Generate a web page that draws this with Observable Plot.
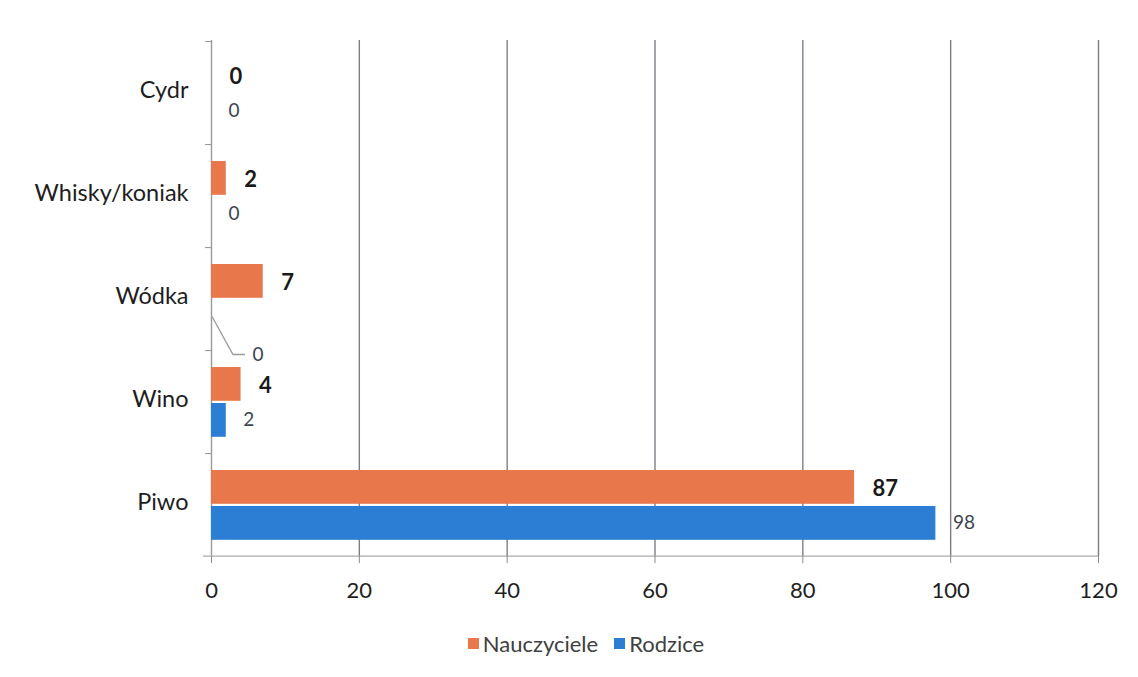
<!DOCTYPE html>
<html><head><meta charset="utf-8">
<script src="https://cdn.jsdelivr.net/npm/d3@7"></script>
<script src="https://cdn.jsdelivr.net/npm/@observablehq/plot@0.6"></script>
<style>
body{margin:0;background:#fff;font-family:Lato,"Open Sans",sans-serif;}
#legend{display:flex;justify-content:center;align-items:center;gap:16px;font-size:22px;color:#404040;margin-top:10px;padding-left:34px;}
#legend .item{display:flex;align-items:center;gap:4px;}
#legend .sw{width:11px;height:11px;display:inline-block;}
</style></head><body>
<div id="chart"></div><div id="legend"></div>
<script>
const categories = ["Cydr", "Whisky/koniak", "Wódka", "Wino", "Piwo"];
const seriesNames = ["Nauczyciele", "Rodzice"];
const nauczyciele = [0, 2, 7, 4, 87];
const rodzice = [0, 0, 0, 2, 98];
const xTicks = [0, 20, 40, 60, 80, 100, 120];
const colors = ["#E8784C", "#2B7ED3"];

const rowsN = categories.map((c, i) => ({category: c, value: nauczyciele[i]}));
const rowsR = categories.map((c, i) => ({category: c, value: rodzice[i]}));
const leaderCat = "Wódka";

const H = 620, mTop = 40, mBottom = 64;
const bw = (H - mTop - mBottom) / categories.length;
const barH = 34;

const plot = Plot.plot({
  width: 1138, height: H,
  marginTop: mTop, marginBottom: mBottom, marginLeft: 211, marginRight: 40,
  style: {fontFamily: "Lato, 'Open Sans', sans-serif", background: "#fff"},
  x: {domain: [0, 120], axis: null},
  y: {domain: categories, padding: 0, axis: null},
  marks: [
    Plot.ruleX(xTicks.filter(t => t > 0), {stroke: "#7d7d86", strokeWidth: 1.4}),
    Plot.ruleX([0], {stroke: "#9a9a9a", strokeWidth: 1.4}),
    // band boundary ticks on the category axis
    Plot.barX(categories, {y: d => d, x1: -0.8, x2: 0, insetBottom: bw - 1.3, fill: "#9a9a9a"}),
    // bottom axis line
    Plot.barX([categories[categories.length - 1]], {y: d => d, x1: -1.1, x2: 120, insetTop: bw - 0.7, insetBottom: -0.7, fill: "#a8a8a8"}),
    Plot.axisX({ticks: xTicks, tickSize: 7, tickPadding: 19, fontSize: 22, fill: "#1e1e1e", stroke: "#8a8a8a", tickFormat: d => d, label: null}),
    Plot.axisY({tickSize: 0, tickPadding: 23, fontSize: 23.5, fill: "#1e1e1e", label: null, dy: -3}),
    Plot.barX(rowsN, {y: "category", x: "value", fill: colors[0], insetTop: 17, insetBottom: bw - 17 - barH}),
    Plot.barX(rowsR, {y: "category", x: "value", fill: colors[1], insetTop: 53, insetBottom: bw - 53 - barH}),
    Plot.text(rowsN, {y: "category", x: "value", text: d => String(d.value), dx: 18, dy: -16, textAnchor: "start", fontSize: 22, fontWeight: "bold", fill: "#1a1a1a"}),
    Plot.text(rowsR.filter(d => d.category !== leaderCat), {y: "category", x: "value", text: d => String(d.value), dx: 17, dy: 18, textAnchor: "start", fontSize: 19, fill: "#3d4450"}),
    Plot.text(rowsR.filter(d => d.category === leaderCat), {y: "category", x: "value", text: d => String(d.value), dx: 41, dy: 56, textAnchor: "start", fontSize: 19, fill: "#3d4450"})
  ]
});
document.getElementById("chart").appendChild(plot);

// leader line for the Wódka / Rodzice label
const sx = plot.scale("x"), sy = plot.scale("y");
const x0 = sx.apply(0);
const yc = sy.apply(leaderCat) + sy.bandwidth / 2;
d3.select(plot).append("path")
  .attr("d", `M${x0 + 1},${yc + 18} L${x0 + 22},${yc + 56} L${x0 + 34},${yc + 56}`)
  .attr("fill", "none").attr("stroke", "#9a9a9a").attr("stroke-width", 1.3);

const legend = document.getElementById("legend");
seriesNames.forEach((s, i) => {
  const it = document.createElement("span");
  it.className = "item";
  it.innerHTML = `<span class="sw" style="background:${colors[i]}"></span><span>${s}</span>`;
  legend.appendChild(it);
});
</script>
</body></html>
